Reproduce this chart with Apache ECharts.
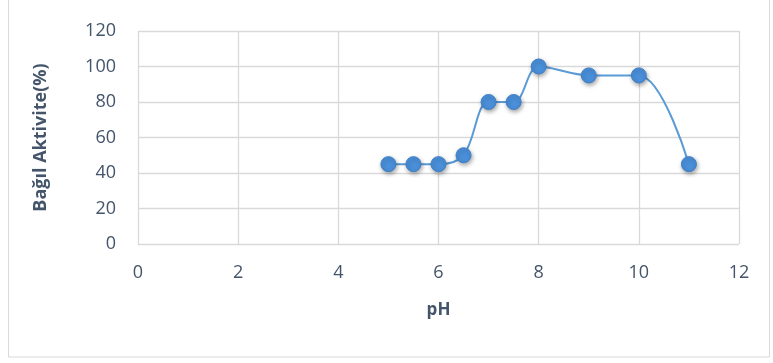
<!DOCTYPE html>
<html>
<head>
<meta charset="utf-8">
<script src="https://cdn.jsdelivr.net/npm/echarts@6/dist/echarts.min.js"></script>
<style>
  html, body { margin: 0; padding: 0; background: #ffffff; }
  #chart { width: 773px; height: 363px; }
</style>
</head>
<body>
<div id="chart"></div>
<script>
// pH values and relative activity (%)
const phValues = [5, 5.5, 6, 6.5, 7, 7.5, 8, 9, 10, 11];
const activity = [45, 45, 45, 50, 80, 80, 100, 95, 95, 45];

const xTitle = 'pH';
const yTitle = 'Bağıl Aktivite(%)';

const labelColor = '#44546a';
const gridColor = '#d9d9d9';
const lineColor = '#5b9bd5';

const chart = echarts.init(document.getElementById('chart'));

chart.setOption({
  animation: false,
  backgroundColor: '#ffffff',
  graphic: [{
    type: 'rect',
    shape: { x: 8.5, y: -2, width: 761, height: 359 },
    style: { fill: 'none', stroke: '#d9d9d9', lineWidth: 1 },
    silent: true
  }],
  grid: { left: 138, right: 34, top: 31, bottom: 119, containLabel: false },
  xAxis: {
    type: 'value',
    min: 0, max: 12, interval: 2,
    name: xTitle,
    nameLocation: 'middle',
    nameGap: 58,
    nameTextStyle: { color: labelColor, fontFamily: 'Open Sans', fontSize: 17, fontWeight: 'bold' },
    axisLine: { show: false },
    axisTick: { show: false },
    axisLabel: { color: labelColor, fontFamily: 'Open Sans', fontSize: 18, margin: 20 },
    splitLine: { show: true, lineStyle: { color: gridColor, width: 1.3 } }
  },
  yAxis: {
    type: 'value',
    min: 0, max: 120, interval: 20,
    name: yTitle,
    nameLocation: 'middle',
    nameGap: 88,
    nameRotate: 90,
    nameTextStyle: { color: labelColor, fontFamily: 'Open Sans', fontSize: 18, fontWeight: 'bold' },
    axisLine: { show: false },
    axisTick: { show: false },
    axisLabel: { color: labelColor, fontFamily: 'Open Sans', fontSize: 18, margin: 22 },
    splitLine: { show: true, lineStyle: { color: gridColor, width: 1.3 } }
  },
  series: [{
    type: 'line',
    data: phValues.map((p, i) => [p, activity[i]]),
    smooth: 0.35,
    symbol: 'circle',
    symbolSize: 15,
    lineStyle: { color: lineColor, width: 2 },
    itemStyle: {
      color: '#4a8fd9',
      borderColor: '#3f80c8',
      borderWidth: 1,
      shadowColor: 'rgba(0,0,0,0.35)',
      shadowBlur: 4,
      shadowOffsetX: 1,
      shadowOffsetY: 2
    }
  }]
});
</script>
</body>
</html>
